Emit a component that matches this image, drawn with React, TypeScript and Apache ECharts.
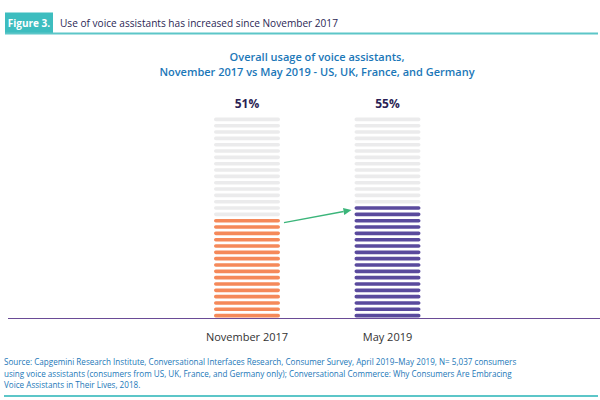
import React, { useEffect, useRef } from "react";
import * as echarts from "echarts";

const CATEGORIES = ["November 2017", "May 2019"];
const VALUES = [51, 55];
const VALUE_LABELS = ["51%", "55%"];
const BAR_COLORS = ["#f5895a", "#5a4a9d"];
const STRIPES = 32;
const FIG_LABEL = "Figure 3.";
const FIG_TITLE = "Use of voice assistants has increased since November 2017";
const CHART_TITLE = ["Overall usage of voice assistants,", "November 2017 vs May 2019 - US, UK, France, and Germany"];
const SOURCE_LINES = [
  "Source: Capgemini Research Institute, Conversational Interfaces Research, Consumer Survey, April 2019\u2013May 2019, N= 5,037 consumers",
  "using voice assistants (consumers from US, UK, France, and Germany only); Conversational Commerce: Why Consumers Are Embracing",
  "Voice Assistants in Their Lives, 2018.",
];

const FONT = "'Open Sans', 'Noto Sans', sans-serif";

export default function App() {
  const ref = useRef<HTMLDivElement>(null);

  useEffect(() => {
    if (!ref.current) return;
    const chart = echarts.init(ref.current, undefined, { renderer: "svg" });
    const BW = 66;
    const SH = 3.6;
    const stripeY = (base: number, unit: number, i: number) => base - (i + 0.45) * unit;

    const option: any = {
      animation: false,
      backgroundColor: "#ffffff",
      grid: { left: 176.75, right: 142.25, top: 115.9, bottom: 81.5 },
      xAxis: {
        type: "category",
        data: CATEGORIES,
        axisLine: { show: false },
        axisTick: { show: false },
        axisLabel: { color: "#333333", fontSize: 11, fontFamily: FONT, margin: 12 },
      },
      yAxis: { type: "value", min: 0, max: 100, show: false },
      series: [
        {
          type: "custom",
          clip: false,
          data: VALUES.map((v, i) => [i, v]),
          renderItem: (params: any, api: any) => {
            const idx = params.dataIndex;
            const xi = api.value(0);
            const v = api.value(1);
            const base = api.coord([xi, 0]);
            const top = api.coord([xi, 100]);
            const unit = (base[1] - top[1]) / STRIPES;
            const filled = Math.round((v / 100) * STRIPES);
            const children: any[] = [];
            for (let i = 0; i < STRIPES; i++) {
              const cy = stripeY(base[1], unit, i);
              children.push({
                type: "rect",
                shape: { x: base[0] - BW / 2, y: cy - SH / 2, width: BW, height: SH, r: SH / 2 },
                style: { fill: i < filled ? BAR_COLORS[idx] : "#ebebec" },
              });
            }
            children.push({
              type: "text",
              style: {
                x: base[0],
                y: top[1] - 12,
                text: VALUE_LABELS[idx],
                fill: "#2b1f55",
                font: `bold 12px ${FONT}`,
                align: "center",
                verticalAlign: "middle",
              },
            });
            if (idx > 0) {
              const pb = api.coord([idx - 1, 0]);
              const pFilled = Math.round((VALUES[idx - 1] / 100) * STRIPES);
              const x1 = pb[0] + BW / 2 + 4;
              const y1 = stripeY(pb[1], unit, pFilled - 1) + 2;
              const x2 = base[0] - BW / 2 - 3;
              const y2 = stripeY(base[1], unit, filled - 1) + 2;
              const dx = x2 - x1;
              const dy = y2 - y1;
              const len = Math.sqrt(dx * dx + dy * dy);
              const ux = dx / len;
              const uy = dy / len;
              const hl = 8;
              const hw = 3.5;
              const bx = x2 - ux * hl;
              const by = y2 - uy * hl;
              children.push({
                type: "line",
                shape: { x1, y1, x2: bx, y2: by },
                style: { stroke: "#3bb57a", lineWidth: 1.3 },
              });
              children.push({
                type: "polygon",
                shape: {
                  points: [
                    [x2, y2],
                    [bx - uy * hw, by + ux * hw],
                    [bx + uy * hw, by - ux * hw],
                  ],
                },
                style: { fill: "#3bb57a" },
              });
            }
            return { type: "group", children };
          },
        },
      ],
      graphic: [
        { type: "rect", shape: { x: 5, y: 12.5, width: 48, height: 21 }, style: { fill: "#3dbdbf" } },
        {
          type: "text",
          style: { x: 29, y: 23, text: FIG_LABEL, fill: "#ffffff", font: `bold 10px ${FONT}`, align: "center", verticalAlign: "middle" },
        },
        {
          type: "text",
          style: { x: 60, y: 23, text: FIG_TITLE, fill: "#2b1f55", font: `10.1px ${FONT}`, align: "left", verticalAlign: "middle" },
        },
        { type: "line", shape: { x1: 5, y1: 33.5, x2: 598, y2: 33.5 }, style: { stroke: "#5cc6c8", lineWidth: 2 } },
        {
          type: "text",
          style: { x: 317, y: 56, text: CHART_TITLE[0], fill: "#1b77b8", font: `600 11px ${FONT}`, align: "center", verticalAlign: "middle" },
        },
        {
          type: "text",
          style: { x: 317, y: 71, text: CHART_TITLE[1], fill: "#1b77b8", font: `600 11px ${FONT}`, align: "center", verticalAlign: "middle" },
        },
        { type: "line", shape: { x1: 8, y1: 318.5, x2: 600, y2: 318.5 }, style: { stroke: "#6a4b96", lineWidth: 1.2 } },
        ...SOURCE_LINES.map((t, i) => ({
          type: "text",
          style: { x: 4, y: 361.5 + i * 11.5, text: t, fill: "#1b77b8", font: `8.1px ${FONT}`, align: "left", verticalAlign: "middle" },
        })),
        { type: "line", shape: { x1: 4, y1: 396, x2: 598, y2: 396 }, style: { stroke: "#5cc6c8", lineWidth: 2 } },
      ],
    };
    chart.setOption(option);
    return () => chart.dispose();
  }, []);

  return (
    <div
      ref={ref}
      style={{ position: "absolute", left: 0, top: 0, width: 600, height: 400, overflow: "hidden" }}
    />
  );
}
